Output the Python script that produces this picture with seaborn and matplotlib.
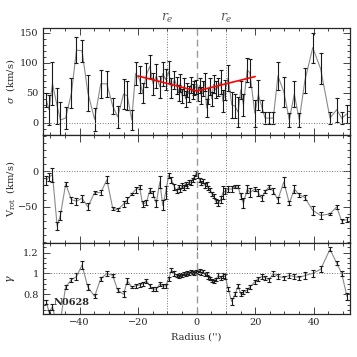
import numpy as np
import matplotlib
matplotlib.use("Agg")
import matplotlib.pyplot as plt
import seaborn as sns
from matplotlib.ticker import MultipleLocator

# radius in arcsec (shared by the three panels)
radius = [-51.4, -50.5, -49.3, -47.7, -46.6, -44.8, -42.8, -41.1, -39.2, -37.2,
          -34.9, -32.8, -30.7, -28.7, -27.0, -25.0, -23.7, -22.2, -20.9, -19.5,
          -18.5, -17.2, -16.0, -14.9, -13.8, -12.6, -11.6, -10.6, -9.6, -8.6, -7.6,
          -6.8, -6.2, -5.6, -5.0, -4.4, -3.8, -3.2, -2.6, -2.0, -1.4, -0.8, -0.2,
          0.4, 1.0, 1.6, 2.2, 2.8, 3.4, 4.0, 4.6, 5.2, 5.8, 6.5,
          7.4, 8.2, 9.0, 9.8, 10.8, 12.0, 13.1, 14.2, 15.1, 16.0, 17.3, 18.2,
          19.9, 21.1, 22.2, 23.4, 24.8, 26.2, 27.8, 29.8, 31.7, 33.4, 35.1, 37.0,
          39.7, 42.4, 45.6, 47.9, 49.6, 51.4]

sigma = [38, 22, 65, 28, 5, 8, 50, 121, 120, 50, 6, 65, 65, 28, 10, 48, 45, 5, 82,
         72, 50, 80, 94, 65, 78, 60, 82, 72, 85, 58, 72,
         62, 50, 66, 45, 60, 40, 55, 48, 63, 52, 58, 60, 48, 62, 45, 57, 68, 25,
         45, 60, 40, 64, 55,
         60, 68, 36, 55, 75, 30, 28, 18, 55, 30, 88, 83, 16, 47, 28, 8, 8, 8, 78,
         52, 5, 48, 5, 70, 125, 90, 8, 22, 8, 15]
sigma_err = [12, 25, 36, 30, 30, 18, 25, 21, 18, 30, 19, 23, 22, 14, 18, 25, 24, 17,
             19, 22, 17, 20, 19, 18, 20, 18, 20, 17, 18, 16, 15,
             14, 13, 15, 12, 14, 13, 12, 14, 13, 12, 11, 12, 12, 13, 14, 12, 15, 15,
             13, 14, 12, 15, 14,
             15, 20, 18, 17, 22, 22, 20, 25, 15, 18, 20, 23, 22, 25, 10, 10, 10, 10,
             23, 25, 12, 22, 12, 21, 25, 26, 10, 20, 10, 15]

vrot = [-13, -8, -5, -77, -62, -18, -40, -42, -38, -50, -30, -30, -12, -52, -54,
        -46, -40, -32, -26, -22, -46, -44, -27, -32, -45, -15, -48, -30, -6, -12, -22,
        -28, -22, -26, -20, -23, -18, -21, -15, -16, -12, -8, -3, -6, -12, -17, -14,
        -20, -18, -24, -26, -32, -35, -42,
        -45, -40, -30, -28, -25, -25, -22, -22, -35, -45, -25, -30, -25, -30, -38,
        -28, -22, -28, -40, -15, -45, -25, -33, -37, -55, -62, -60, -50, -70, -68]
vrot_err = [6, 6, 10, 6, 6, 3, 4, 5, 5, 5, 2, 3, 5, 2, 2, 4, 4, 2, 4, 3, 4, 3, 4, 4,
            5, 8, 7, 9, 4, 4, 4,
            3, 3, 3, 3, 3, 3, 3, 3, 3, 3, 3, 3, 3, 3, 3, 3, 3, 3, 3, 3, 3, 3, 3,
            4, 5, 9, 4, 4, 4, 2, 2, 4, 7, 6, 6, 3, 5, 4, 2, 3, 4, 4, 7, 3, 5, 3, 3,
            6, 5, 2, 3, 3, 4]

gamma = [0.73, 0.63, 0.68, 0.50, 0.55, 0.87, 0.94, 0.97, 1.08, 0.87, 0.78, 0.95,
         1.00, 0.98, 0.84, 0.80, 0.93, 0.87, 0.88, 0.89, 0.90, 0.93, 0.88, 0.85,
         0.85, 0.90, 0.88, 0.88, 0.95, 1.03, 1.00,
         0.98, 0.97, 0.99, 0.98, 1.00, 0.99, 1.01, 1.00, 1.02, 1.01, 1.00, 1.02,
         1.01, 1.03, 1.00, 1.02, 0.99, 1.00, 0.96, 0.95, 0.93, 0.92, 0.94,
         0.98, 0.96, 0.98, 0.97, 0.85, 0.73, 0.80, 0.88, 0.80, 0.82, 0.84, 0.87,
         0.92, 0.95, 0.97, 0.96, 0.94, 1.00, 0.97, 0.96, 0.98, 0.97, 0.96, 0.98,
         1.00, 1.04, 1.23, 1.10, 1.00, 0.78]
gamma_err = [0.02, 0.02, 0.03, 0.03, 0.03, 0.02, 0.02, 0.03, 0.04, 0.03, 0.02, 0.02,
             0.02, 0.01, 0.02, 0.03, 0.03, 0.01, 0.02, 0.02, 0.02, 0.02, 0.02, 0.02,
             0.02, 0.02, 0.02, 0.02, 0.02, 0.02, 0.02] + [0.015] * 23 + \
            [0.02, 0.02, 0.02, 0.02, 0.02, 0.03, 0.02, 0.02, 0.02, 0.02, 0.02, 0.02,
             0.02, 0.02, 0.02, 0.02, 0.02, 0.02, 0.02, 0.02, 0.02, 0.02, 0.02, 0.03,
             0.03, 0.03, 0.02, 0.02, 0.02, 0.03]

# linear fit of sigma (red)
fit_r = [-20, 0, 20]
fit_sigma = [78, 53, 77]

r_e = 10
galaxy = "N0628"

sns.set_style("ticks")
plt.rcParams["font.family"] = ["DejaVu Serif"]
plt.rcParams["mathtext.fontset"] = "dejavuserif"
plt.rcParams["font.size"] = 7

fig = plt.figure(figsize=(3.57, 3.57), dpi=100)
ax1 = fig.add_axes([0.120, 0.622, 0.860, 0.300])
ax2 = fig.add_axes([0.120, 0.319, 0.860, 0.303], sharex=ax1)
ax3 = fig.add_axes([0.120, 0.120, 0.860, 0.199], sharex=ax1)

panels = [(ax1, sigma, sigma_err, 0), (ax2, vrot, vrot_err, 0), (ax3, gamma, gamma_err, 1)]
for ax, vals, errs, ref in panels:
    sns.lineplot(x=radius, y=vals, ax=ax, color="#8a8a8a", lw=0.8, sort=False)
    ax.errorbar(radius, vals, yerr=errs, fmt="none", ecolor="#1a1a1a",
                elinewidth=0.8, capsize=1.5, capthick=0.8)
    ax.axhline(ref, color="#777777", ls=":", lw=0.7)
    ax.axvline(0, color="#999999", ls=(0, (5, 3)), lw=1.0)
    for xr in (-r_e, r_e):
        ax.axvline(xr, color="#777777", ls=":", lw=0.7)
    ax.tick_params(which="both", direction="in", top=True, right=True, width=0.6,
                   labelsize=7, pad=3)
    ax.tick_params(which="major", length=5)
    ax.tick_params(which="minor", length=2.5)
    for s in ax.spines.values():
        s.set_linewidth(0.9)
    ax.xaxis.set_major_locator(MultipleLocator(20))
    ax.xaxis.set_minor_locator(MultipleLocator(5))

sns.lineplot(x=fit_r, y=fit_sigma, ax=ax1, color="red", lw=1.2)

ax1.set_xlim(-52.6, 52.4)
ax1.set_ylim(-20, 158)
ax1.yaxis.set_major_locator(MultipleLocator(50))
ax1.yaxis.set_minor_locator(MultipleLocator(10))
ax1.set_ylabel(r"$\sigma$  (km/s)", fontsize=7)

ax2.set_ylim(-101, 51)
ax2.yaxis.set_major_locator(MultipleLocator(50))
ax2.yaxis.set_minor_locator(MultipleLocator(10))
ax2.set_yticks([-50, 0])
ax2.set_ylabel(r"V$_{\rm rot}$  (km/s)", fontsize=7)

ax3.set_ylim(0.61, 1.29)
ax3.set_yticks([0.8, 1.0, 1.2])
ax3.set_yticklabels(["0.8", "1", "1.2"])
ax3.yaxis.set_minor_locator(MultipleLocator(0.05))
ax3.set_ylabel(r"$\gamma$", fontsize=8)
ax3.set_xlabel("Radius ('')", fontsize=7)
ax3.text(-49, 0.72, galaxy, fontsize=7, fontweight="bold", va="center")

for ax in (ax1, ax2):
    plt.setp(ax.get_xticklabels(), visible=False)

for xr in (-r_e, r_e):
    ax1.text(xr, 162, r"$r_e$", ha="center", va="bottom", fontsize=9, color="#555555")

for ax in (ax1, ax2, ax3):
    ax.yaxis.set_label_coords(-0.085, 0.5)

fig.savefig("out.png", dpi=100)
